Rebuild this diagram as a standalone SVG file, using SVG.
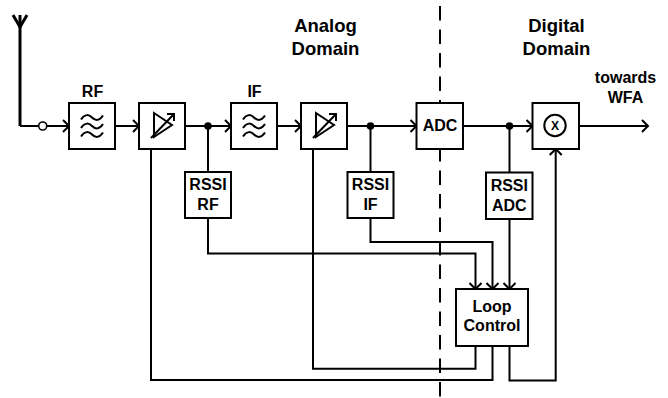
<svg xmlns="http://www.w3.org/2000/svg" width="668" height="398" viewBox="0 0 668 398">
<style>
.box{fill:#fff;stroke:#000;stroke-width:2}
.ln{fill:none;stroke:#000;stroke-width:2}
.t{font-family:"Liberation Sans",Arial,sans-serif;font-weight:bold;font-size:16px;text-anchor:middle;fill:#000}
.big{font-size:18.5px}
</style>
<defs>
<marker id="arr" viewBox="0 0 14 14" markerWidth="14" markerHeight="14" refX="7" refY="7" orient="auto" markerUnits="userSpaceOnUse">
<path d="M1,1 L7,7 L1,13" fill="none" stroke="#000" stroke-width="2"/>
</marker>
<path id="wave" d="M-11,2 C-7,-4 -3,-3 0,0 C3,3 7,4 11,-2" fill="none" stroke="#000" stroke-width="2"/>
<g id="filt">
<use href="#wave" y="-8.5"/>
<use href="#wave"/>
<use href="#wave" y="8.5"/>
</g>
</defs>
<rect width="668" height="398" fill="#fff"/>

<line id="domain-divider" x1="440" y1="6" x2="440" y2="398" stroke="#000" stroke-width="2" stroke-dasharray="14.5 9"/>

<g id="labels">
<text class="t big" x="325.5" y="31.5">Analog</text>
<text class="t big" x="325.5" y="55">Domain</text>
<text class="t big" x="556.5" y="31.5">Digital</text>
<text class="t big" x="556.5" y="55">Domain</text>
<text class="t" x="625.5" y="82.5">towards</text>
<text class="t" x="625.5" y="102.5">WFA</text>
</g>

<g id="connectors">
<path class="ln" d="M20,126 H38.7"/>
<path class="ln" d="M46.7,126 H69" marker-end="url(#arr)"/>
<path class="ln" d="M115,126 H139" marker-end="url(#arr)"/>
<path class="ln" d="M185,126 H231" marker-end="url(#arr)"/>
<path class="ln" d="M277,126 H301" marker-end="url(#arr)"/>
<path class="ln" d="M347,126 H416.5" marker-end="url(#arr)"/>
<path class="ln" d="M463,126 H532.5" marker-end="url(#arr)"/>
<path class="ln" d="M579,126 H648" marker-end="url(#arr)"/>
<path class="ln" d="M208,126 V172"/>
<path class="ln" d="M370.5,126 V172"/>
<path class="ln" d="M509.5,126 V172.5"/>
<path class="ln" d="M208,218 V253.5 H475.5 V289" marker-end="url(#arr)"/>
<path class="ln" d="M370.5,218 V242 H492.5 V289" marker-end="url(#arr)"/>
<path class="ln" d="M509.5,219 V289" marker-end="url(#arr)"/>
<path class="ln" d="M475.5,346 V368.7 H313 V138"/>
<path class="ln" d="M492.5,346 V380 H151 V138"/>
<path class="ln" d="M509.5,346 V380.5 H555.7 V149" marker-end="url(#arr)"/>
<circle cx="208" cy="126" r="3.8" fill="#000"/>
<circle cx="370.5" cy="126" r="3.8" fill="#000"/>
<circle cx="509.5" cy="126" r="3.8" fill="#000"/>
</g>

<g id="antenna">
<path d="M20,15 V126" fill="none" stroke="#000" stroke-width="3"/>
<path d="M13,15 L20,27 L27,15" fill="none" stroke="#000" stroke-width="3"/>
<circle cx="42.7" cy="126" r="4" fill="#fff" stroke="#000" stroke-width="1.6"/>
</g>

<g id="rf-filter">
<rect class="box" x="69" y="103" width="46" height="46"/>
<use href="#filt" x="92" y="126"/>
<text class="t" x="92.5" y="97">RF</text>
</g>

<g id="rf-amp">
<rect class="box" x="139" y="103" width="46" height="46"/>
<path class="ln" d="M154,113 V137 L172,125 Z"/>
<path class="ln" d="M151,138 L174,114"/>
<path class="ln" d="M167,114 H174 V121"/>
</g>

<g id="if-filter">
<rect class="box" x="231" y="103" width="46" height="46"/>
<use href="#filt" x="254" y="126"/>
<text class="t" x="254.5" y="97">IF</text>
</g>

<g id="if-amp">
<rect class="box" x="301" y="103" width="46" height="46"/>
<path class="ln" d="M316,113 V137 L334,125 Z"/>
<path class="ln" d="M313,138 L336,114"/>
<path class="ln" d="M329,114 H336 V121"/>
</g>

<g id="adc">
<rect class="box" x="416.5" y="103" width="46.5" height="46"/>
<text class="t" x="440" y="131">ADC</text>
</g>

<g id="mixer">
<rect class="box" x="532.5" y="103" width="46.5" height="46"/>
<circle cx="555" cy="125.5" r="10.7" fill="#fff" stroke="#000" stroke-width="2"/>
<text class="t" x="555" y="129.8" style="font-size:12px">X</text>
</g>

<g id="rssi-rf">
<rect class="box" x="185" y="172" width="46" height="46"/>
<text class="t" x="208" y="190">RSSI</text>
<text class="t" x="208" y="210">RF</text>
</g>

<g id="rssi-if">
<rect class="box" x="347.5" y="172" width="46" height="46"/>
<text class="t" x="370.5" y="190">RSSI</text>
<text class="t" x="370.5" y="210">IF</text>
</g>

<g id="rssi-adc">
<rect class="box" x="486" y="172.5" width="46.5" height="46.5"/>
<text class="t" x="509.3" y="190.7">RSSI</text>
<text class="t" x="509.3" y="210.7">ADC</text>
</g>

<g id="loop-control">
<rect class="box" x="456" y="289" width="72" height="57"/>
<text class="t" x="492" y="312">Loop</text>
<text class="t" x="492" y="331">Control</text>
</g>
</svg>
